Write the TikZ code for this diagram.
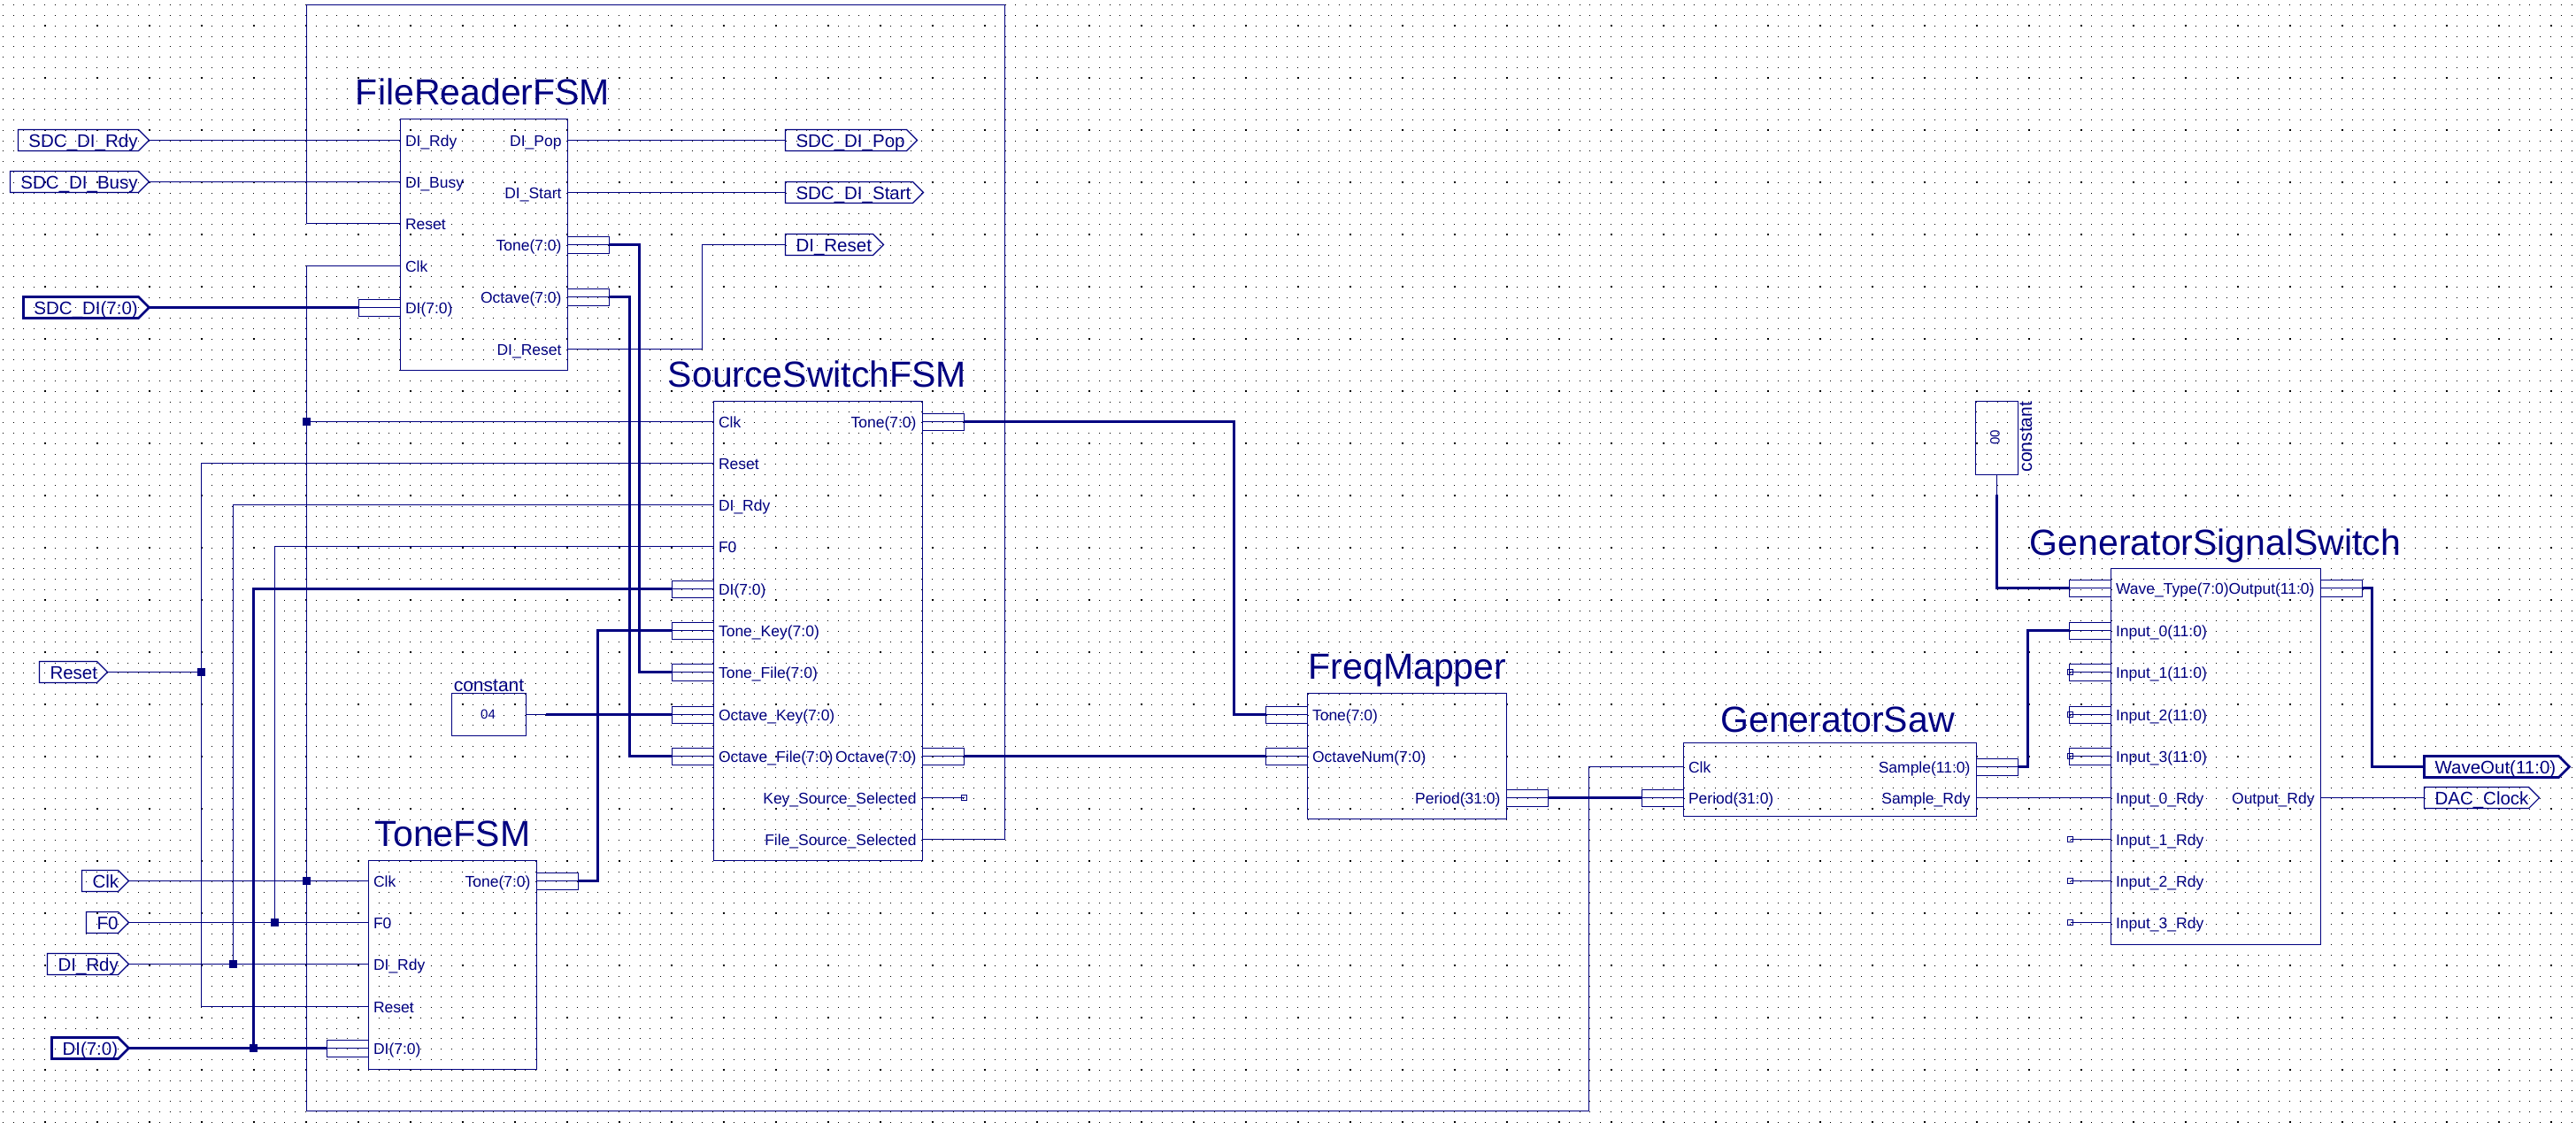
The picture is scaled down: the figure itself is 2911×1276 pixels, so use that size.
\documentclass[tikz,border=0pt]{standalone}
\usepackage{fontspec}
\setmainfont{Liberation Sans}
\definecolor{rtl}{HTML}{000080}
\tikzset{
  wire/.style={draw=rtl,line width=0.55pt},
  buswire/.style={draw=rtl,line width=1.3pt},
  blockbox/.style={draw=rtl,line width=0.55pt,inner sep=0pt,outer sep=0pt,anchor=north west},
  porttext/.style={text=rtl,inner sep=0pt,outer sep=0pt,font=\fontsize{8.75}{10}\selectfont},
  tagtext/.style={text=rtl,inner sep=0pt,outer sep=0pt,font=\fontsize{10.25}{12}\selectfont},
  titletext/.style={text=rtl,inner sep=0pt,outer sep=0pt,font=\fontsize{20.5}{24}\selectfont},
  junction/.style={fill=rtl,draw=none,inner sep=0pt,outer sep=0pt,minimum size=4.5pt,rectangle},
  gridsmall/.style={draw=black,line width=0.5pt,dash pattern=on 0.5pt off 5.4pt},
  gridbig/.style={draw=black,line width=1pt,dash pattern=on 1pt off 28.5pt}
}
% block with title
\newcommand{\blk}[8]{%
  \node[blockbox,minimum width={(#4-#2)*0.5pt},minimum height={(#5-#3)*0.5pt}] (#1) at (#2,#3) {};
  \node[titletext,anchor=base] (#1-title) at (#7,#8) {#6};}
% ports: signal left / right, bus left / right
\newcommand{\lsig}[4]{%
  \coordinate (#1) at (#2,#3);
  \node[porttext,anchor=base west] (#1-t) at (#2+5.5,#3+6.5) {#4};}
\newcommand{\rsig}[4]{%
  \coordinate (#1) at (#2,#3);
  \node[porttext,anchor=base east] (#1-t) at (#2-7,#3+6.5) {#4};}
\newcommand{\lbus}[4]{%
  \coordinate (#1) at (#2-47,#3);
  \draw[wire] (#2-47,#3-9) rectangle (#2,#3+10) (#2-47,#3) -- (#2,#3);
  \node[porttext,anchor=base west] (#1-t) at (#2+5.5,#3+6.5) {#4};}
\newcommand{\rbus}[4]{%
  \coordinate (#1) at (#2+47,#3);
  \draw[wire] (#2,#3-9) rectangle (#2+47,#3+10) (#2,#3) -- (#2+47,#3);
  \node[porttext,anchor=base east] (#1-t) at (#2-7,#3+6.5) {#4};}
% tags: name, left x, tip x, y, text, style
\newcommand{\intag}[6]{%
  \draw[#6] (#2,#4-12) -- (#3-12,#4-12) -- (#3,#4) -- (#3-12,#4+12) -- (#2,#4+12) -- cycle;
  \coordinate (#1) at (#3,#4);
  \node[tagtext,anchor=base west] (#1-t) at (#2+12,#4+7.5) {#5};}
\newcommand{\outtag}[6]{%
  \draw[#6] (#2,#4-12) -- (#3-12,#4-12) -- (#3,#4) -- (#3-12,#4+12) -- (#2,#4+12) -- cycle;
  \coordinate (#1) at (#2,#4);
  \node[tagtext,anchor=base west] (#1-t) at (#2+12,#4+7.5) {#5};}
% open-end marker
\newcommand{\openend}[1]{\draw[wire,line width=0.5pt] ($(#1)+(-3,-3)$) rectangle ($(#1)+(3,3)$);}
\usetikzlibrary{calc}
\begin{document}
\begin{tikzpicture}[x=0.5pt,y=-0.5pt,shift={(0.5,0.5)}]
\useasboundingbox[fill=white] (-0.5,-0.5) rectangle (2910.5,1275.5);
% background grid
\foreach \j in {0,...,107} \draw[gridsmall] (2.3,{28.7-11.8*2+11.8*\j}) -- (2910,{28.7-11.8*2+11.8*\j});
\foreach \j in {0,...,21} \draw[gridbig] (49,{28.7+59*\j}) -- (2910,{28.7+59*\j});

% ---------- blocks ----------
\blk{fr}{452}{134}{641}{418}{FileReaderFSM}{545}{118}
\blk{ss}{806}{453}{1042}{972}{SourceSwitchFSM}{923}{437}
\blk{tf}{416}{972}{606}{1208}{ToneFSM}{511}{956}
\blk{fm}{1477}{783}{1702}{925}{FreqMapper}{1590}{767}
\blk{gs}{1902}{839}{2233}{922}{GeneratorSaw}{2076}{827}
\blk{ga}{2385}{642}{2622}{1067}{GeneratorSignalSwitch}{2503}{627}

% FileReaderFSM ports
\lsig{fr-rdy}{452}{158}{DI\_Rdy}
\lsig{fr-busy}{452}{205}{DI\_Busy}
\lsig{fr-reset}{452}{252}{Reset}
\lsig{fr-clk}{452}{300}{Clk}
\lbus{fr-di}{452}{347}{DI(7:0)}
\rsig{fr-pop}{641}{158}{DI\_Pop}
\rsig{fr-start}{641}{217}{DI\_Start}
\rbus{fr-tone}{641}{276}{Tone(7:0)}
\rbus{fr-oct}{641}{335}{Octave(7:0)}
\rsig{fr-dirst}{641}{394}{DI\_Reset}

% SourceSwitchFSM ports
\lsig{ss-clk}{806}{476}{Clk}
\lsig{ss-reset}{806}{523}{Reset}
\lsig{ss-rdy}{806}{570}{DI\_Rdy}
\lsig{ss-f0}{806}{617}{F0}
\lbus{ss-di}{806}{665}{DI(7:0)}
\lbus{ss-tk}{806}{712}{Tone\_Key(7:0)}
\lbus{ss-tf}{806}{759}{Tone\_File(7:0)}
\lbus{ss-ok}{806}{807}{Octave\_Key(7:0)}
\lbus{ss-of}{806}{854}{Octave\_File(7:0)}
\rbus{ss-tone}{1042}{476}{Tone(7:0)}
\rbus{ss-oct}{1042}{854}{Octave(7:0)}
\rsig{ss-kss}{1042}{901}{Key\_Source\_Selected}
\rsig{ss-fss}{1042}{948}{File\_Source\_Selected}

% ToneFSM ports
\lsig{tf-clk}{416}{995}{Clk}
\lsig{tf-f0}{416}{1042}{F0}
\lsig{tf-rdy}{416}{1089}{DI\_Rdy}
\lsig{tf-reset}{416}{1137}{Reset}
\lbus{tf-di}{416}{1184}{DI(7:0)}
\rbus{tf-tone}{606}{995}{Tone(7:0)}

% FreqMapper ports
\lbus{fm-tone}{1477}{807}{Tone(7:0)}
\lbus{fm-oct}{1477}{854}{OctaveNum(7:0)}
\rbus{fm-per}{1702}{901}{Period(31:0)}

% GeneratorSaw ports
\lsig{gs-clk}{1902}{866}{Clk}
\lbus{gs-per}{1902}{901}{Period(31:0)}
\rbus{gs-smp}{2233}{866}{Sample(11:0)}
\rsig{gs-rdy}{2233}{901}{Sample\_Rdy}

% GeneratorSignalSwitch ports
\lbus{ga-wt}{2385}{664}{Wave\_Type(7:0)}
\lbus{ga-i0}{2385}{712}{Input\_0(11:0)}
\lbus{ga-i1}{2385}{759}{Input\_1(11:0)}
\lbus{ga-i2}{2385}{807}{Input\_2(11:0)}
\lbus{ga-i3}{2385}{854}{Input\_3(11:0)}
\lsig{ga-r0}{2385}{901}{Input\_0\_Rdy}
\lsig{ga-r1}{2385}{948}{Input\_1\_Rdy}
\lsig{ga-r2}{2385}{995}{Input\_2\_Rdy}
\lsig{ga-r3}{2385}{1042}{Input\_3\_Rdy}
\rbus{ga-out}{2622}{664}{Output(11:0)}
\rsig{ga-ordy}{2622}{901}{Output\_Rdy}

% ---------- constants ----------
\node[blockbox,minimum width=42pt,minimum height=24pt] (c04) at (510,783) {};
\node[porttext,font=\fontsize{7.5}{9}\selectfont] (c04-v) at (551,807) {04};
\node[tagtext,font=\fontsize{10.5}{12}\selectfont,anchor=base] (c04-n) at (552,781) {constant};
\node[blockbox,minimum width=24pt,minimum height=41.5pt] (c00) at (2232,453) {};
\node[porttext,font=\fontsize{7.5}{9}\selectfont,rotate=90] (c00-v) at (2254,494) {00};
\node[tagtext,font=\fontsize{10.5}{12}\selectfont,rotate=90] (c00-n) at (2289,493) {constant};

% ---------- tags ----------
\intag{t-rdy}{20}{168}{158}{SDC\_DI\_Rdy}{wire}
\intag{t-busy}{11}{168}{205}{SDC\_DI\_Busy}{wire}
\intag{t-sdi}{26}{168}{347}{SDC\_DI(7:0)}{buswire}
\intag{t-reset}{44}{121}{759}{Reset}{wire}
\intag{t-clk}{92}{145}{995}{Clk}{wire}
\intag{t-f0}{97}{145}{1042}{F0}{wire}
\intag{t-dirdy}{53}{145}{1089}{DI\_Rdy}{wire}
\intag{t-di}{58}{145}{1184}{DI(7:0)}{buswire}
\outtag{t-pop}{887}{1036}{158}{SDC\_DI\_Pop}{wire}
\outtag{t-start}{887}{1043}{217}{SDC\_DI\_Start}{wire}
\outtag{t-dirst}{887}{998}{276}{DI\_Reset}{wire}
\outtag{t-wave}{2739}{2903}{866}{WaveOut(11:0)}{buswire}
\outtag{t-dac}{2739}{2869}{901}{DAC\_Clock}{wire}

% ---------- route points ----------
\coordinate (top-l) at (346,5);
\coordinate (top-r) at (1135,5);
\coordinate (bot-l) at (346,1255);
\coordinate (bot-r) at (1795,1255);
\coordinate (b-frt) at (722,276);
\coordinate (b-fro) at (711,335);
\coordinate (b-rst) at (793,276);
\coordinate (b-tf) at (675,995);
\coordinate (b-ss) at (1394,476);
\coordinate (b-smp) at (2291,866);
\coordinate (b-out) at (2680,664);
\coordinate (b-c04) at (616,807);
\coordinate (b-c00) at (2256,558);
\coordinate (n-kss) at (1089,901);
\coordinate (n-r1) at (2339,948);
\coordinate (n-r2) at (2339,995);
\coordinate (n-r3) at (2339,1042);
\coordinate (n-i1) at (2339,759);
\coordinate (n-i2) at (2339,807);
\coordinate (n-i3) at (2339,854);

% ---------- junctions ----------
\node[junction] (j-clk1) at (346,476) {};
\node[junction] (j-clk2) at (346,995) {};
\node[junction] (j-reset) at (227,759) {};
\node[junction] (j-f0) at (310,1042) {};
\node[junction] (j-rdy) at (263,1089) {};
\node[junction] (j-di) at (286,1184) {};

% ---------- thin wires ----------
\draw[wire] (t-rdy) -- (fr-rdy);
\draw[wire] (t-busy) -- (fr-busy);
\draw[wire] (fr-pop) -- (t-pop);
\draw[wire] (fr-start) -- (t-start);
\draw[wire] (fr-dirst) -| (b-rst) -- (t-dirst);
\draw[wire] (ss-fss) -| (top-r) -- (top-l) |- (fr-reset);
\draw[wire] (fr-clk) -| (bot-l) -- (bot-r) |- (gs-clk);
\draw[wire] (j-clk1.center) -- (ss-clk);
\draw[wire] (t-clk) -- (tf-clk);
\draw[wire] (t-f0) -- (tf-f0);
\draw[wire] (j-f0.center) |- (ss-f0);
\draw[wire] (t-dirdy) -- (tf-rdy);
\draw[wire] (j-rdy.center) |- (ss-rdy);
\draw[wire] (t-reset) -- (j-reset.center);
\draw[wire] (ss-reset) -| (j-reset.center) |- (tf-reset);
\draw[wire] (ss-kss) -- (n-kss);
\draw[wire] (gs-rdy) -- (ga-r0);
\draw[wire] (ga-ordy) -- (t-dac);
\draw[wire] (n-r1) -- (ga-r1);
\draw[wire] (n-r2) -- (ga-r2);
\draw[wire] (n-r3) -- (ga-r3);
\draw[wire] (c04.east) -- (b-c04);
\draw[wire] (c00.south) -- (b-c00);

% ---------- bus wires ----------
\draw[buswire] (t-sdi) -- (fr-di);
\draw[buswire] (fr-tone) -- (b-frt) |- (ss-tf);
\draw[buswire] (fr-oct) -- (b-fro) |- (ss-of);
\draw[buswire] (t-di) -- (tf-di);
\draw[buswire] (j-di.center) |- (ss-di);
\draw[buswire] (tf-tone) -- (b-tf) |- (ss-tk);
\draw[buswire] (b-c04) -- (ss-ok);
\draw[buswire] (ss-tone) -- (b-ss) |- (fm-tone);
\draw[buswire] (ss-oct) -- (fm-oct);
\draw[buswire] (fm-per) -- (gs-per);
\draw[buswire] (gs-smp) -- (b-smp) |- (ga-i0);
\draw[buswire] (b-c00) |- (ga-wt);
\draw[buswire] (ga-out) -- (b-out) |- (t-wave);

% ---------- open ends ----------
\openend{n-kss}
\openend{n-r1}
\openend{n-r2}
\openend{n-r3}
\openend{n-i1}
\openend{n-i2}
\openend{n-i3}
\end{tikzpicture}
\end{document}
